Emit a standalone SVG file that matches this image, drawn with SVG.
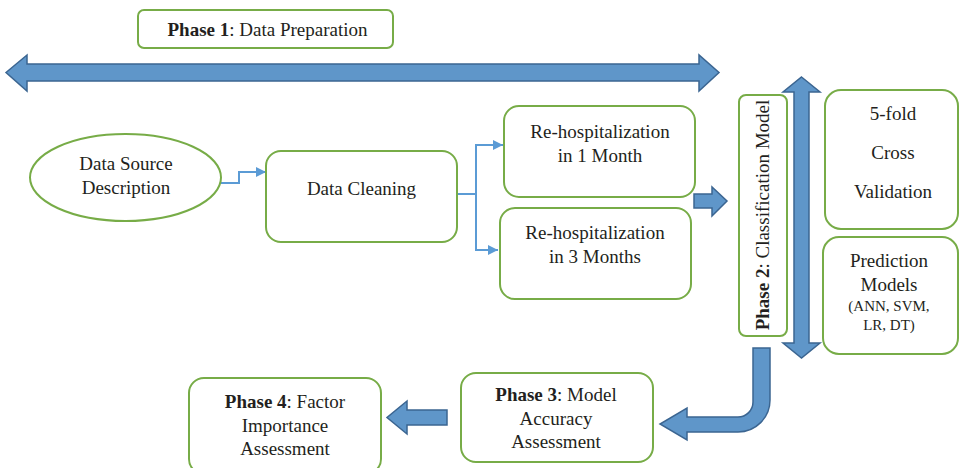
<svg xmlns="http://www.w3.org/2000/svg" width="960" height="468" viewBox="0 0 960 468">
<defs>
<style>
.box{fill:#fff;stroke:#77ac47;stroke-width:2}
.blk{fill:#5f96c9;stroke:#3b6591;stroke-width:1.5;stroke-linejoin:miter}
.conn{fill:none;stroke:#5b9bd5;stroke-width:2}
text{font-family:"Liberation Serif","Times New Roman",serif;font-size:19px;fill:#231f20;text-anchor:middle}
.b{font-weight:bold}
.s{font-size:15px}
</style>
<marker id="ah" viewBox="0 0 10 10" refX="10" refY="5" markerWidth="10" markerHeight="10" markerUnits="userSpaceOnUse" orient="auto">
<path d="M0,0 L10,5 L0,10 Z" fill="#5b9bd5"/>
</marker>
</defs>
<rect width="960" height="468" fill="#fff"/>

<g id="connectors">
<path class="blk" d="M6,72.5 L27,55 V64 H699 V55 L719,72.5 L699,91 V81 H27 V91 Z"/>
<path class="blk" d="M801.5,77 L820,92 H809 V343 H820 L801.5,358 L783,343 H794 V92 H783 Z"/>
<path class="blk" d="M694,194 H712 V187 L727,201 L712,216 V208 H694 Z"/>
<path class="blk" d="M753,348 H770 V400 A32,32 0 0 1 738,432 H687 V440 L660,424 L687,408 V417 H738 A15,15 0 0 0 753,402 Z"/>
<path class="blk" d="M447,410 V425 H407 V434 L387,417.5 L407,401 V410 Z"/>
<polyline class="conn" points="221,183 239,183 239,172 266,172" marker-end="url(#ah)"/>
<polyline class="conn" points="457,194 476,194"/>
<polyline class="conn" points="476,194 476,145 503,145" marker-end="url(#ah)"/>
<polyline class="conn" points="476,194 476,250 498,250" marker-end="url(#ah)"/>
</g>

<g id="phase1">
<rect class="box" x="138" y="10" width="255" height="38" rx="6"/>
<text x="267.5" y="36"><tspan class="b">Phase 1</tspan>: Data Preparation</text>
</g>

<g id="data-source">
<ellipse class="box" cx="125.5" cy="177.5" rx="95.5" ry="43.5"/>
<text x="126" y="170">Data Source</text>
<text x="126" y="194">Description</text>
</g>

<g id="data-cleaning">
<rect class="box" x="266" y="151" width="191" height="91" rx="15"/>
<text x="361.5" y="195">Data Cleaning</text>
</g>

<g id="rehosp-1">
<rect class="box" x="504" y="106" width="191" height="91" rx="15"/>
<text x="600" y="138">Re-hospitalization</text>
<text x="600" y="162">in 1 Month</text>
</g>

<g id="rehosp-3">
<rect class="box" x="500" y="208" width="191" height="91" rx="15"/>
<text x="595" y="239">Re-hospitalization</text>
<text x="595" y="263">in 3 Months</text>
</g>

<g id="phase2">
<rect class="box" x="739" y="95" width="48" height="241" rx="7"/>
<text transform="translate(769,215) rotate(-90)"><tspan class="b">Phase 2</tspan>: Classification Model</text>
</g>

<g id="cross-validation">
<rect class="box" x="825" y="90" width="133" height="139" rx="16"/>
<text x="893" y="120">5-fold</text>
<text x="893" y="159">Cross</text>
<text x="893" y="198">Validation</text>
</g>

<g id="prediction-models">
<rect class="box" x="823" y="237" width="135" height="117" rx="16"/>
<text x="889" y="267">Prediction</text>
<text x="889" y="291">Models</text>
<text class="s" x="889" y="311">(ANN, SVM,</text>
<text class="s" x="889" y="330">LR, DT)</text>
</g>

<g id="phase3">
<rect class="box" x="461" y="373" width="192" height="89" rx="15"/>
<text x="556" y="401"><tspan class="b">Phase 3</tspan>: Model</text>
<text x="556" y="425">Accuracy</text>
<text x="556" y="448">Assessment</text>
</g>

<g id="phase4">
<rect class="box" x="189" y="378" width="192" height="96" rx="15"/>
<text x="285" y="408"><tspan class="b">Phase 4</tspan>: Factor</text>
<text x="285" y="432">Importance</text>
<text x="285" y="455">Assessment</text>
</g>
</svg>
